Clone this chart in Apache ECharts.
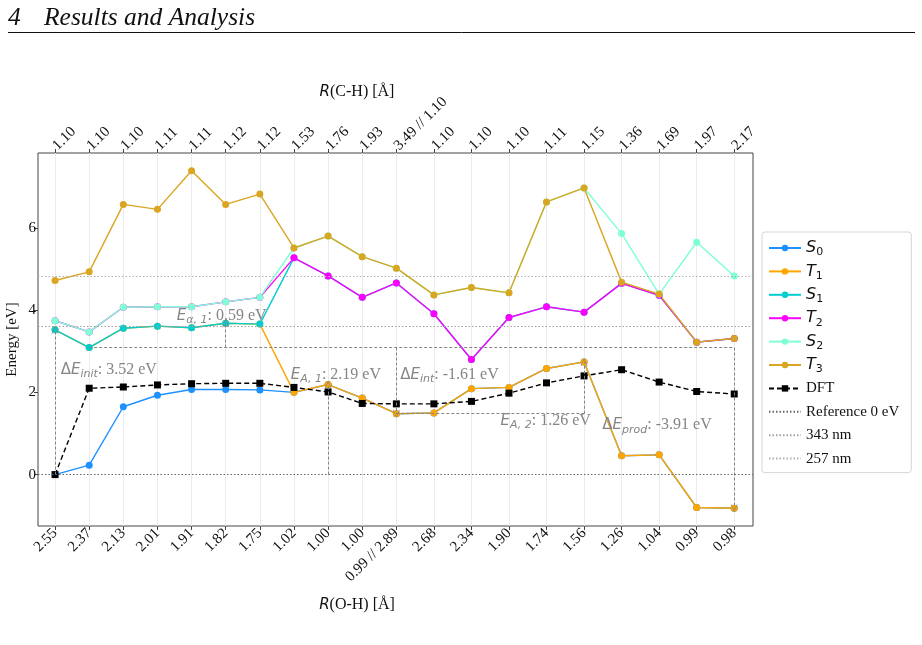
<!DOCTYPE html>
<html>
<head>
<meta charset="utf-8">
<script src="https://cdn.jsdelivr.net/npm/echarts@6/dist/echarts.min.js"></script>
<style>
html,body{margin:0;padding:0;background:#fff;}
#main{width:922px;height:645px;}
</style>
</head>
<body>
<div id="main"></div>
<script>
// reaction coordinate positions (second scan is stretched a bit)
var xPos = [0, 1, 2, 3, 4, 5, 6, 7, 8, 9, 10, 11.1, 12.2, 13.3, 14.4, 15.5, 16.6, 17.7, 18.8, 19.9];
var rOH = ['2.55','2.37','2.13','2.01','1.91','1.82','1.75','1.02','1.00','1.00','0.99 // 2.89','2.68','2.34','1.90','1.74','1.56','1.26','1.04','0.99','0.98'];
var rCH = ['1.10','1.10','1.10','1.11','1.11','1.12','1.12','1.53','1.76','1.93','3.49 // 1.10','1.10','1.10','1.10','1.11','1.15','1.36','1.69','1.97','2.17'];

var S0 = [0.00, 0.23, 1.65, 1.93, 2.07, 2.07, 2.06, 2.00, 2.19, 1.86, 1.48, 1.50, 2.09, 2.12, 2.58, 2.74, 0.46, 0.48, -0.80, -0.82];
var T1 = [3.52, 3.09, 3.56, 3.61, 3.57, 3.68, 3.66, 2.00, 2.19, 1.86, 1.48, 1.50, 2.09, 2.12, 2.58, 2.74, 0.46, 0.48, -0.80, -0.82];
var S1 = [3.52, 3.09, 3.56, 3.61, 3.57, 3.68, 3.66, 5.27, 4.83, 4.31, 4.66, 3.91, 2.80, 3.82, 4.08, 3.95, 4.65, 4.36, 3.22, 3.31];
var T2 = [3.74, 3.47, 4.07, 4.08, 4.08, 4.20, 4.31, 5.27, 4.83, 4.31, 4.66, 3.91, 2.80, 3.82, 4.08, 3.95, 4.65, 4.36, 3.22, 3.31];
var S2 = [3.74, 3.47, 4.07, 4.08, 4.08, 4.20, 4.31, 5.51, 5.80, 5.30, 5.02, 4.37, 4.55, 4.42, 6.63, 6.97, 5.86, 4.39, 5.65, 4.83];
var T3 = [4.72, 4.93, 6.57, 6.45, 7.39, 6.57, 6.82, 5.51, 5.80, 5.30, 5.02, 4.37, 4.55, 4.42, 6.63, 6.97, 4.68, 4.39, 3.22, 3.31];
var DFT = [0.00, 2.10, 2.13, 2.18, 2.21, 2.22, 2.22, 2.12, 2.01, 1.73, 1.72, 1.72, 1.78, 1.98, 2.23, 2.40, 2.55, 2.25, 2.02, 1.96];

var yTicks = [0, 2, 4, 6];
var ref343 = 1239.84 / 343;
var ref257 = 1239.84 / 257;

var serif = 'Liberation Serif';
var mathFont = 'DejaVu Sans';
var annGray = '#858585';

function pairs(vals){
    return vals.map(function(v, i){ return [xPos[i], v]; });
}
function tickName(list){
    return function(v){
        var i = xPos.indexOf(v);
        return i < 0 ? '' : list[i];
    };
}
function fmt(v){ return v.toFixed(2); }

var base = S1[1];
var annText = [
    {x: 0.15, y: 2.54, t: '{d|Δ}{e|E}{s|init}{t|: ' + fmt(S1[0] - S0[0]) + ' eV}'},
    {x: 3.55, y: 3.86, t: '{e|E}{s|α, 1}{t|: ' + fmt(S1[5] - base) + ' eV}'},
    {x: 6.89, y: 2.42, t: '{e|E}{s|A, 1}{t|: ' + fmt(T1[8] - S0[0]) + ' eV}'},
    {x: 10.1, y: 2.42, t: '{d|Δ}{e|E}{s|int}{t|: ' + fmt(T1[10] - base) + ' eV}'},
    {x: 13.04, y: 1.30, t: '{e|E}{s|A, 2}{t|: ' + fmt(T1[15] - T1[10]) + ' eV}'},
    {x: 16.02, y: 1.20, t: '{d|Δ}{e|E}{s|prod}{t|: ' + fmt(T1[19] - base) + ' eV}'}
];

var chev = 'path://M0,10L5,0L10,10L9,10L5,2L1,10Z';
function seg(x1, y1, x2, y2, arrow){
    return [
        {coord: [x1, y1], symbol: 'none'},
        {coord: [x2, y2], symbol: arrow ? chev : 'none', symbolSize: [7, 8]}
    ];
}
var annLines = [
    seg(xPos[1], base, xPos[19], base, false),
    seg(xPos[19], base, xPos[19], T1[19], true),
    seg(xPos[0], S0[0], xPos[0], S1[0], true),
    seg(xPos[5], base, xPos[5], S1[5], true),
    seg(xPos[8], S0[0], xPos[8], T1[8], true),
    seg(xPos[10], base, xPos[10], T1[10], true),
    seg(xPos[10], T1[10], xPos[15], T1[10], false),
    seg(xPos[15], T1[10], xPos[15], T1[15], true)
];

var richAnn = {
    d: {fontFamily: mathFont, fontSize: 15, color: annGray, lineHeight: 20},
    e: {fontFamily: mathFont, fontStyle: 'italic', fontSize: 15, color: annGray, lineHeight: 20},
    s: {fontFamily: mathFont, fontStyle: 'italic', fontSize: 11, color: annGray, lineHeight: 13, verticalAlign: 'bottom'},
    t: {fontFamily: serif, fontSize: 16, color: annGray, lineHeight: 20}
};

function stateSeries(name, vals, color){
    return {
        name: name, type: 'line', data: pairs(vals),
        symbol: 'circle', symbolSize: 7,
        lineStyle: {color: color, width: 1.4},
        itemStyle: {color: color},
        emphasis: {disabled: true},
        animation: false
    };
}
function refSeries(name, y, color){
    return {
        name: name, type: 'line', data: [], symbol: 'none',
        lineStyle: {color: color, width: 1, type: [1.5, 2]},
        itemStyle: {color: color},
        markLine: {
            silent: true, symbol: 'none', label: {show: false},
            lineStyle: {color: color, width: 1, type: [1.5, 2]},
            data: [{yAxis: y}]
        },
        animation: false
    };
}

var legendData = ['S0', 'T1', 'S1', 'T2', 'S2', 'T3', 'DFT'].concat(
    ['Reference 0 eV', '343 nm', '257 nm'].map(function(n){
        return {name: n, itemStyle: {opacity: 0}};
    })
);

var myChart = echarts.init(document.getElementById('main'));
var option = {
    backgroundColor: '#fff',
    animation: false,
    grid: {left: 38, right: 169, top: 153, bottom: 119, containLabel: false, outerBoundsMode: 'none',
        show: true, borderColor: '#444', borderWidth: 1, backgroundColor: 'transparent'},
    xAxis: [
        {
            type: 'value', position: 'bottom', min: -0.5, max: 20.45,
            axisLine: {show: false, onZero: false},
            axisTick: {show: true, length: 4, lineStyle: {color: '#444'}, customValues: xPos},
            axisLabel: {customValues: xPos, rotate: 45, formatter: tickName(rOH), fontFamily: serif, fontSize: 15, color: '#111', margin: 5},
            splitLine: {show: true, lineStyle: {color: '#ebebeb', width: 1}}
        },
        {
            type: 'value', position: 'top', min: -0.5, max: 20.45,
            axisLine: {show: false, onZero: false},
            axisTick: {show: true, length: 4, lineStyle: {color: '#444'}, customValues: xPos},
            axisLabel: {customValues: xPos, rotate: -45, formatter: tickName(rCH), fontFamily: serif, fontSize: 15, color: '#111', margin: 5},
            splitLine: {show: false}
        }
    ],
    yAxis: {
        type: 'value', min: -1.25, max: 7.82,
        name: 'Energy [eV]', nameLocation: 'middle', nameGap: 18, nameMoveOverlap: false,
        nameTextStyle: {fontFamily: serif, fontSize: 15, color: '#111'},
        axisLine: {show: false, onZero: false},
        axisTick: {show: true, length: 4, lineStyle: {color: '#444'}, customValues: yTicks},
        axisLabel: {customValues: yTicks, fontFamily: serif, fontSize: 15, color: '#111', margin: 2},
        splitLine: {show: false}
    },
    legend: {
        data: legendData,
        orient: 'vertical', left: 762, top: 232,
        padding: [6, 12, 4, 6], itemGap: 3.4, itemWidth: 32, itemHeight: 8,
        borderColor: '#d5d5d5', borderWidth: 1, borderRadius: 3,
        selectedMode: false,
        textStyle: {
            fontFamily: serif, fontSize: 15, color: '#111', lineHeight: 20,
            rich: {
                m: {fontFamily: mathFont, fontStyle: 'italic', fontSize: 16, color: '#111', lineHeight: 20},
                s: {fontFamily: mathFont, fontSize: 11, color: '#111', lineHeight: 12, verticalAlign: 'bottom'}
            }
        },
        formatter: function(name){
            if (/^[ST]\d$/.test(name)) {
                return '{m|' + name.charAt(0) + '}{s|' + name.charAt(1) + '}';
            }
            return name;
        }
    },
    graphic: [
        {type: 'text', left: 8, top: 5, style: {text: '4', font: 'italic 25.5px "Liberation Serif"', fill: '#111'}},
        {type: 'text', left: 44, top: 5, style: {text: 'Results and Analysis', font: 'italic 25.5px "Liberation Serif"', fill: '#111'}},
        {type: 'line', shape: {x1: 8, y1: 32.5, x2: 915, y2: 32.5}, style: {stroke: '#111', lineWidth: 1}},
        {type: 'text', x: 357, y: 92, style: {
            text: '{r|R}{t|(C-H) [Å]}', align: 'center', verticalAlign: 'middle',
            rich: {r: {fontFamily: mathFont, fontStyle: 'italic', fontSize: 15, fill: '#111'}, t: {fontFamily: serif, fontSize: 16, fill: '#111'}}
        }},
        {type: 'text', x: 357, y: 605, style: {
            text: '{r|R}{t|(O-H) [Å]}', align: 'center', verticalAlign: 'middle',
            rich: {r: {fontFamily: mathFont, fontStyle: 'italic', fontSize: 15, fill: '#111'}, t: {fontFamily: serif, fontSize: 16, fill: '#111'}}
        }}
    ],
    series: [
        {
            name: 'annotations', type: 'line', data: [], silent: true, animation: false,
            markLine: {
                silent: true, label: {show: false},
                lineStyle: {color: annGray, width: 1, type: [3, 2]},
                emphasis: {disabled: true},
                data: annLines
            },
            markPoint: {
                silent: true, symbol: 'circle', symbolSize: 1,
                itemStyle: {color: 'rgba(0,0,0,0)'},
                label: {show: true, position: 'right', distance: 0, formatter: function(p){ return p.data.t; }, rich: richAnn},
                data: annText.map(function(a){ return {coord: [a.x, a.y], t: a.t}; })
            }
        },
        refSeries('Reference 0 eV', 0, '#666'),
        refSeries('343 nm', ref343, '#a0a0a0'),
        refSeries('257 nm', ref257, '#b0b0b0'),
        stateSeries('S0', S0, '#1E90FF'),
        stateSeries('T1', T1, '#FFA500'),
        stateSeries('S1', S1, '#00CED1'),
        stateSeries('T2', T2, '#FF00FF'),
        stateSeries('S2', S2, '#7FFFD4'),
        stateSeries('T3', T3, '#DAA520'),
        {
            name: 'DFT', type: 'line', data: pairs(DFT),
            symbol: 'rect', symbolSize: 7,
            lineStyle: {color: '#000', width: 1.4, type: [5, 3]},
            itemStyle: {color: '#000'},
            emphasis: {disabled: true},
            animation: false
        }
    ]
};
myChart.setOption(option);
</script>
</body>
</html>
